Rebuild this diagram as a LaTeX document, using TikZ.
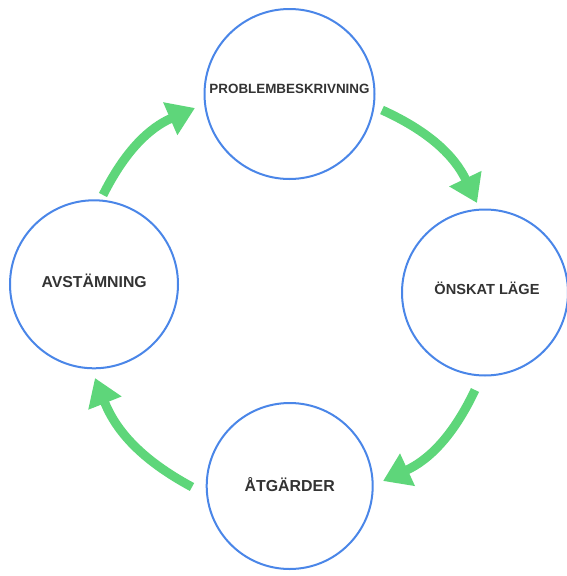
\documentclass[tikz,border=0pt]{standalone}
\usepackage{fontspec}
\setmainfont{Liberation Sans}
\usetikzlibrary{arrows.meta}
\definecolor{cblue}{RGB}{74,134,232}
\definecolor{cgreen}{RGB}{94,214,122}
\definecolor{ctext}{RGB}{51,51,51}
\begin{document}
\begin{tikzpicture}[x=1pt,y=1pt,
  stage/.style={circle,draw=cblue,line width=2pt,fill=white,inner sep=0pt},
  lbl/.style={text=ctext,font=\bfseries,inner sep=0pt},
  flow/.style={draw=cgreen,line width=9pt,-{Triangle[width=34pt,length=27pt]},bend left=20}]
\useasboundingbox (0,-576) rectangle (567,0);
\node[stage,minimum size=170pt] (T) at (289.5,-94) {};
\node[stage,minimum size=166pt] (R) at (485,-292.5) {};
\node[stage,minimum size=166pt] (B) at (289.7,-486) {};
\node[stage,minimum size=168pt] (L) at (94,-284.3) {};
\node[lbl,font=\bfseries\fontsize{13.4}{16}\selectfont] (tT) at (289.5,-89) {PROBLEMBESKRIVNING};
\node[lbl,font=\bfseries\fontsize{14.6}{17}\selectfont] (tR) at (487,-288) {ÖNSKAT LÄGE};
\node[lbl,font=\bfseries\fontsize{15.9}{18}\selectfont] (tB) at (289.7,-485) {ÅTGÄRDER};
\node[lbl,font=\bfseries\fontsize{15.8}{18}\selectfont] (tL) at (94.2,-281) {AVSTÄMNING};
\coordinate (a1s) at (103,-195);
\coordinate (a1e) at (195,-108);
\coordinate (a2s) at (382,-110);
\coordinate (a2e) at (477,-203);
\coordinate (a3s) at (475,-390);
\coordinate (a3e) at (383,-481);
\coordinate (a4s) at (192,-487);
\coordinate (a4e) at (95,-378);
\draw[flow] (a1s) to (a1e);
\draw[flow] (a2s) to (a2e);
\draw[flow] (a3s) to (a3e);
\draw[flow] (a4s) to (a4e);
\end{tikzpicture}
\end{document}
